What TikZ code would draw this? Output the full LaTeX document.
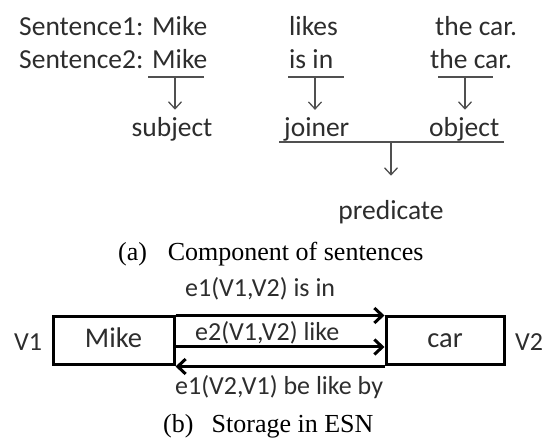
\documentclass[tikz,border=0pt]{standalone}
\usepackage{fontspec}
\usetikzlibrary{arrows.meta,calc}
\newfontfamily\wordfont{Carlito}
\newfontfamily\capfont{Liberation Serif}
\definecolor{mytext}{RGB}{45,45,45}
\definecolor{myline}{RGB}{80,80,80}

\begin{document}
\begin{tikzpicture}[
    x=1pt, y=-1pt,
    word/.style={font=\wordfont\fontsize{27.5}{32}\selectfont,text=mytext,inner sep=0pt},
    lbl/.style={font=\wordfont\fontsize{26}{31}\selectfont,text=mytext,inner sep=0pt},
    capt/.style={font=\capfont\fontsize{26}{31}\selectfont,inner sep=0pt,anchor=base west},
    thinline/.style={line width=1.3pt,myline},
    thinarr/.style={thinline,-{Straight Barb[length=7pt,width=13pt]}},
    cell/.style={draw,line width=3pt,lbl,font=\wordfont\fontsize{28.5}{33}\selectfont,
        text height=14pt,text depth=0pt,minimum height=48pt},
    bigarr/.style={line width=3pt,-{Straight Barb[length=8pt,width=15pt]}}
]
\useasboundingbox (0,0) rectangle (544,438);

% sentences
\node[word,anchor=base west] (s1) at (19,36) {Sentence1:};
\node[word,anchor=base west] (m1) at (152,36) {Mike};
\node[word,anchor=base west] (v1) at (289,36) {likes};
\node[word,anchor=base west] (o1) at (435,36) {the car.};
\node[word,anchor=base west] (s2) at (19,69) {Sentence2:};
\node[word,anchor=base west] (m2) at (152,69) {Mike};
\node[word,anchor=base west] (v2) at (289,69) {is in};
\node[word,anchor=base west] (o2) at (430,69) {the car.};

% components
\node[word,anchor=base] (subj) at (172,137) {subject};
\node[word,anchor=base west] (join) at (284,137) {joiner};
\node[word,anchor=base west] (obj) at (429,137) {object};
\node[word,anchor=base] (pred) at (391,220) {predicate};

% underlines
\coordinate (ua) at (148,77);  \coordinate (ub) at (204,77);
\coordinate (va) at (288,77);  \coordinate (vb) at (344,77);
\coordinate (oa) at (438,77);  \coordinate (ob) at (493,77);
\coordinate (pa) at (279,142); \coordinate (pb) at (504,142);
\foreach \a/\b in {ua/ub,va/vb,oa/ob,pa/pb} {
    \draw[thinline] (\a) -- (\b);
}
\coordinate (um) at (175,77);
\coordinate (vm) at (315,77);
\coordinate (om) at (465,77);
\coordinate (pm) at (391,142);
\draw[thinarr,shorten >=8pt] (um) -- (um |- subj.north);
\draw[thinarr,shorten >=8pt] (vm) -- (vm |- join.north);
\draw[thinarr,shorten >=8pt] (om) -- (om |- obj.north);
\draw[thinarr,shorten >=25pt] (pm) -- (pm |- pred.north);

\node[capt] (capa) at (118,261) {(a)\hspace{0.8em}Component of sentences};

% storage
\node[cell,minimum width=121pt] (mike) at (113.5,341) {Mike};
\node[cell,minimum width=118pt] (car) at (445,341) {car};
\node[lbl] (lv1) at (28,342) {V1};
\node[lbl] (lv2) at (529,342) {V2};

\draw[bigarr] (mike.north east) -- (car.north west);
\draw[bigarr] ([yshift=-6pt]mike.east) -- ([yshift=-6pt]car.west);
\draw[bigarr] (car.south west) -- (mike.south east);

\node[lbl,anchor=base west] (e1) at (185,297) {e1(V1,V2) is in};
\node[lbl,anchor=base west] (e2) at (195,341) {e2(V1,V2) like};
\node[lbl,anchor=base west] (e3) at (175,395) {e1(V2,V1) be like by};

\node[capt] (capb) at (163,432) {(b)\hspace{0.7em}Storage in ESN};

\end{tikzpicture}
\end{document}
